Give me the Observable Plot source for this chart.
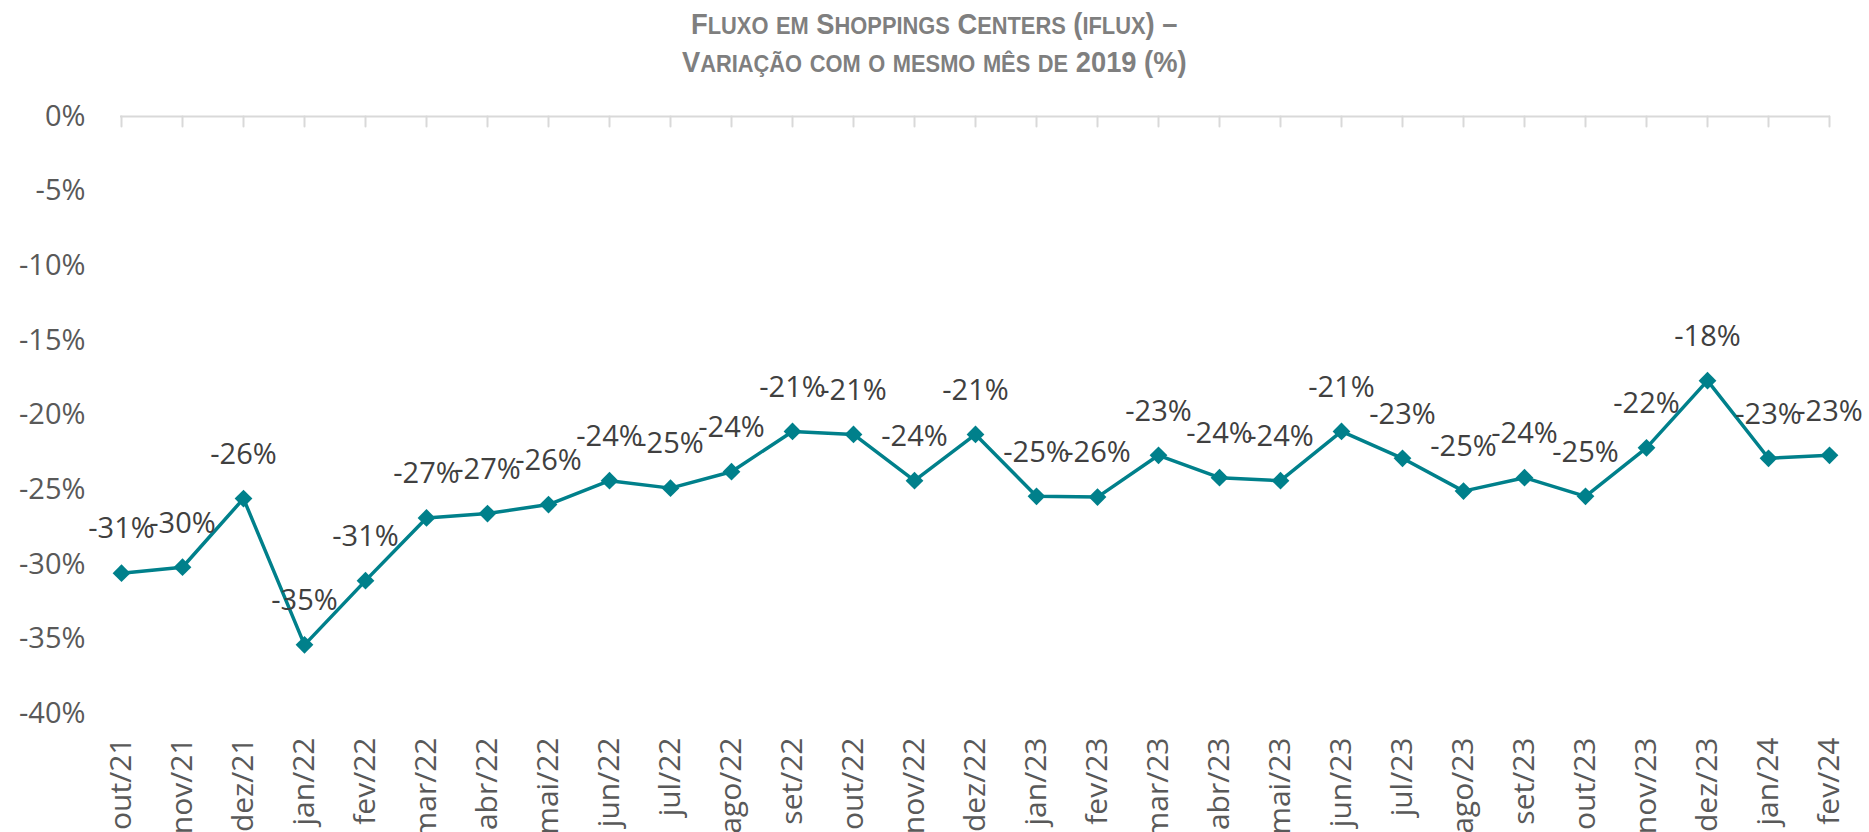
<!DOCTYPE html>
<html>
<head>
<meta charset="utf-8">
<script src="https://cdn.jsdelivr.net/npm/d3@7"></script>
<script src="https://cdn.jsdelivr.net/npm/@observablehq/plot@0.6"></script>
<style>
  html, body { margin: 0; padding: 0; background: #fff; overflow: hidden; }
  #title { height: 90px; position: relative; font-family: "Liberation Sans", Arial, sans-serif; font-weight: bold; color: #7f7f7f; text-align: center; font-size: 30px; }
  #title > div { position: absolute; left: 0; right: 0; line-height: 32px; }
  #title > div > span { display: inline-block; transform: scaleX(0.91); transform-origin: center; white-space: nowrap; }
  #title .sc { font-size: 0.8em; }
  #t1 { top: 8px; }
  #t2 { top: 46px; }
  #chart svg { display: block; }
</style>
</head>
<body>
<div id="title"><div id="t1"><span></span></div><div id="t2"><span></span></div></div>
<div id="chart"></div>
<script>
const titleLines = ["Fluxo em Shoppings Centers (iflux) –", "Variação com o mesmo mês de 2019 (%)"];
const months = ["out/21","nov/21","dez/21","jan/22","fev/22","mar/22","abr/22","mai/22","jun/22","jul/22","ago/22","set/22","out/22","nov/22","dez/22","jan/23","fev/23","mar/23","abr/23","mai/23","jun/23","jul/23","ago/23","set/23","out/23","nov/23","dez/23","jan/24","fev/24"];
const values = [-30.6,-30.2,-25.6,-35.4,-31.1,-26.9,-26.6,-26.0,-24.4,-24.9,-23.8,-21.1,-21.3,-24.4,-21.3,-25.45,-25.5,-22.7,-24.2,-24.4,-21.1,-22.9,-25.1,-24.2,-25.45,-22.2,-17.7,-22.9,-22.7];
const yTicks = [0,-5,-10,-15,-20,-25,-30,-35,-40];

// small caps rendering: lowercase letters shown as smaller capitals
function smallCaps(el, text) {
  const runs = [];
  for (const ch of text) {
    const lower = ch !== ch.toUpperCase();
    const last = runs[runs.length - 1];
    if (last && last.lower === lower) last.t += ch; else runs.push({lower, t: ch});
  }
  for (const r of runs) {
    if (r.lower) {
      const s = document.createElement("span");
      s.className = "sc";
      s.textContent = r.t.toUpperCase();
      el.appendChild(s);
    } else {
      el.appendChild(document.createTextNode(r.t));
    }
  }
}
smallCaps(document.querySelector("#t1 span"), titleLines[0]);
smallCaps(document.querySelector("#t2 span"), titleLines[1]);

const data = months.map((m, i) => ({month: m, value: values[i]}));
const fmtLabel = v => (v < 0 ? "-" : "") + Math.round(Math.abs(v)) + "%";
const teal = "#00808B";

const tickShape = { draw(context, l) { context.moveTo(0, 0); context.lineTo(0, -l); } };

const chart = Plot.plot({
  width: 1869,
  height: 753,
  marginTop: 26,
  marginBottom: 130,
  marginLeft: 120,
  marginRight: 39,
  style: { fontFamily: "'Open Sans', sans-serif", fontSize: "29px", color: "#595959", background: "#fff" },
  x: { type: "point", domain: months, padding: 0 },
  y: { domain: [-40, 0] },
  marks: [
    Plot.ruleY([0], { stroke: "#d9d9d9", strokeWidth: 2 }),
    Plot.vector(months, { x: d => d, y: d => 0, length: 10, rotate: 180, anchor: "start", shape: tickShape, stroke: "#d9d9d9", strokeWidth: 2 }),
    Plot.axisY({ ticks: yTicks, tickFormat: d => d + "%", tickSize: 0, tickPadding: 35, label: null, fontSize: 29, fill: "#595959" }),
    Plot.axisX({ anchor: "bottom", tickSize: 0, tickPadding: 24, tickRotate: -90, label: null, fontSize: 30, fill: "#595959" }),
    Plot.line(data, { x: "month", y: "value", stroke: teal, strokeWidth: 3.5 }),
    Plot.dot(data, { x: "month", y: "value", symbol: "diamond2", r: 8, fill: teal, stroke: "none" }),
    Plot.text(data, { x: "month", y: "value", text: d => fmtLabel(d.value), dy: -44, fontSize: 29, fill: "#404040" })
  ]
});
document.getElementById("chart").appendChild(chart);
</script>
</body>
</html>
